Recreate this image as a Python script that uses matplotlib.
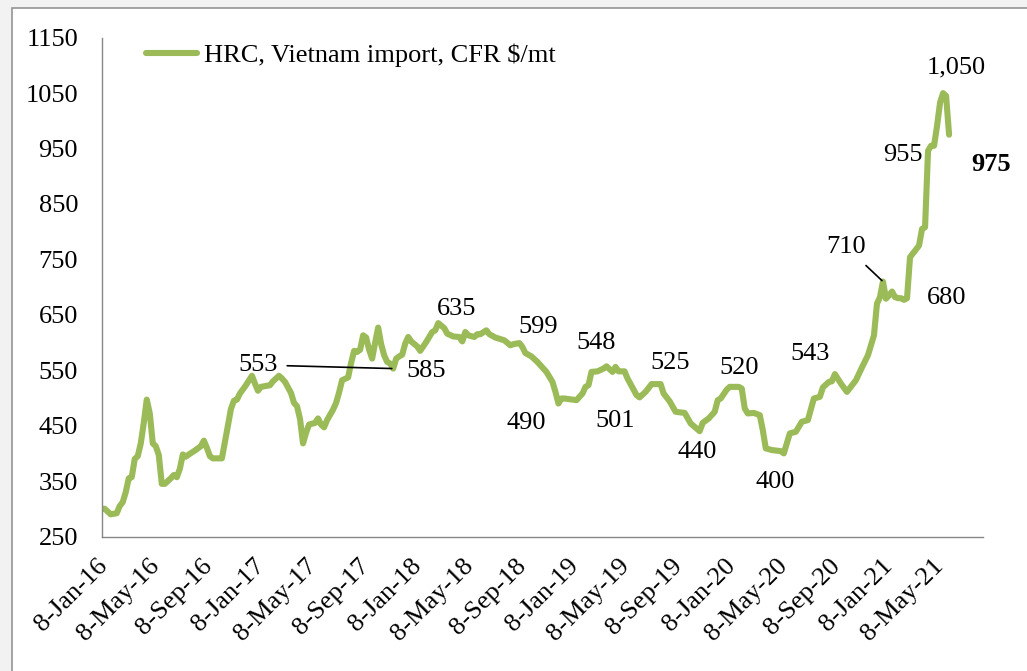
import matplotlib
matplotlib.use("Agg")
import matplotlib.pyplot as plt
from matplotlib.patches import Rectangle
from matplotlib.transforms import ScaledTranslation
import numpy as np
import pandas as pd

plt.rcParams["font.family"] = ["Liberation Serif", "DejaVu Serif"]

# Weekly assessments: week number counted from the first assessment (8-Jan-2016)
start_date = "2016-01-08"
week_no = [
    0, 1, 3, 5, 6, 7, 8, 9, 10, 11, 12, 13, 14, 15, 16, 17, 18, 19, 20, 21,
    23, 24, 25, 26, 27, 28, 29, 31, 33, 34, 35, 36, 37, 40, 41, 42, 43, 44, 45, 46,
    48, 50, 51, 52, 53, 54, 56, 57, 59, 60, 61, 62, 63, 64, 65, 66, 67, 68, 69, 71,
    72, 73, 74, 75, 77, 78, 79, 80, 82, 83, 84, 85, 86, 87, 88, 89, 90, 91, 92, 93,
    94, 95, 96, 97, 98, 99, 100, 101, 102, 103, 105, 106, 108, 110, 111, 112, 114, 115, 117, 119,
    120, 121, 122, 124, 125, 126, 128, 129, 131, 134, 136, 137, 139, 140, 141, 143, 145, 146, 148, 150,
    151, 152, 153, 154, 158, 160, 161, 162, 163, 165, 167, 168, 170, 171, 172, 174, 175, 177, 178, 179,
    181, 183, 184, 186, 187, 189, 191, 194, 196, 199, 200, 202, 204, 205, 206, 208, 209, 211, 212, 213,
    214, 215, 217, 219, 220, 221, 223, 226, 227, 229, 231, 233, 235, 237, 239, 240, 242, 243, 244, 246,
    248, 251, 253, 255, 256, 257, 258, 259, 260, 261, 262, 263, 264, 265, 266, 267, 268, 269, 270, 272,
    273, 274, 275, 276, 277, 278, 279, 280, 281, 282,
]
price = [
    300, 300, 290, 292, 305, 312, 330, 355, 357, 390, 395, 418, 455, 497, 472, 418, 413, 397, 345, 345,
    355, 361, 357, 372, 398, 394, 398, 405, 413, 423, 410, 395, 391, 391, 420, 450, 480, 495, 497, 508,
    523, 540, 526, 513, 520, 521, 523, 530, 540, 535, 529, 519, 509, 491, 485, 462, 418, 437, 452, 455,
    463, 452, 447, 460, 479, 491, 510, 532, 537, 563, 585, 583, 587, 613, 609, 587, 571, 600, 627, 597,
    577, 565, 562, 553, 571, 575, 578, 598, 610, 602, 593, 585, 601, 619, 622, 635, 626, 616, 611, 610,
    602, 619, 613, 610, 615, 615, 622, 615, 609, 604, 595, 597, 599, 592, 581, 575, 565, 559, 547, 529,
    511, 490, 499, 499, 496, 508, 520, 523, 547, 548, 553, 557, 547, 556, 548, 548, 535, 515, 505, 501,
    511, 525, 525, 525, 508, 494, 475, 473, 454, 440, 455, 463, 475, 496, 499, 515, 520, 520, 520, 517,
    481, 472, 473, 469, 442, 409, 406, 404, 400, 436, 439, 457, 460, 499, 502, 519, 529, 530, 543, 526,
    511, 532, 555, 577, 595, 613, 670, 682, 710, 679, 685, 692, 682, 680, 680, 677, 680, 754, 761, 775,
    805, 808, 946, 955, 955, 991, 1033, 1050, 1045, 975,
]

series_name = "HRC, Vietnam import, CFR $/mt"
y_ticks = list(range(250, 1151, 100))
x_tick_dates = pd.date_range("2016-01-01", "2021-05-01", freq="4MS") + pd.Timedelta(days=7)
x_end = "2021-08-22"

# Labelled points: (week number, label offset in points, bold, leader line)
labels = [
    (97, (-97.5, 2.6), False, True),
    (106, (4.2, -14.3), False, False),
    (112, (13.4, 9.9), False, False),
    (139, (13.7, 11.8), False, False),
    (152, (-23.3, -14.3), False, False),
    (165, (-1.0, 20.6), False, False),
    (179, (-17.6, -16.8), False, False),
    (184, (11.2, 15.4), False, False),
    (199, (-2.0, -14.8), False, False),
    (211, (2.7, 13.4), False, False),
    (227, (-6.2, -20.4), False, False),
    (244, (-17.8, 14.5), False, False),
    (260, (-26.4, 24.9), False, True),
    (266, (32.5, 0.4), False, False),
    (276, (-20.0, -6.6), False, False),
    (280, (9.5, 18.8), False, False),
    (282, (30.2, -21.8), True, False),
]

FS = 19
dates = pd.Timestamp(start_date) + pd.to_timedelta(np.array(week_no) * 7, unit="D")
values = np.array(price)

W, H = 1027, 671
fig = plt.figure(figsize=(W / 100, H / 100), dpi=100)
fig.patch.set_facecolor("#F2F2F2")
fig.add_artist(Rectangle((12.3 / W, -0.1), 1.2, (H - 8.3) / H + 0.1,
                         transform=fig.transFigure, facecolor="white",
                         edgecolor="#8C8C8C", linewidth=1.1, zorder=0))

ax = fig.add_axes([101.7 / W, 1 - 536.5 / H, (983 - 101.7) / W, (536.5 - 37.7) / H])
ax.set_facecolor("none")

ax.plot(dates, values, color="#9BBB59", linewidth=4.4,
        solid_joinstyle="round", solid_capstyle="round", label=series_name)

ax.set_ylim(250, 1150)
ax.set_yticks(y_ticks)
ax.set_xlim(pd.Timestamp(start_date), pd.Timestamp(x_end))
ax.set_xticks(x_tick_dates)
ax.set_xticklabels([f"{d.day}-{d.strftime('%b-%y')}" for d in x_tick_dates])

for s in ("top", "right"):
    ax.spines[s].set_visible(False)
for s in ("left", "bottom"):
    ax.spines[s].set_color("#868686")
    ax.spines[s].set_linewidth(1.0)

ax.tick_params(axis="y", length=0, pad=17, labelsize=FS)
ax.tick_params(axis="x", length=0, pad=13, labelsize=FS)
shift = ScaledTranslation(-5 / 100, 0, fig.dpi_scale_trans)
for lab in ax.get_xticklabels():
    lab.set_rotation(45)
    lab.set_ha("right")
    lab.set_va("top")
    lab.set_rotation_mode("anchor")
    lab.set_transform(lab.get_transform() + shift)

ax.legend(loc="center left", bbox_to_anchor=(0.0497, 0.9653), frameon=False,
          fontsize=FS, handlelength=1.95, handletextpad=0.25,
          borderpad=0, borderaxespad=0)

lookup = dict(zip(week_no, price))
for wk, (dx, dy), bold, leader in labels:
    v = lookup[wk]
    d = pd.Timestamp(start_date) + pd.Timedelta(days=7 * wk)
    arrow = dict(arrowstyle="-", color="black", lw=1.2, shrinkA=5, shrinkB=1) if leader else None
    ax.annotate(f"{v:,}", xy=(d, v), xytext=(dx, dy), textcoords="offset points",
                ha="center", va="center", fontsize=FS,
                fontweight="bold" if bold else "normal",
                arrowprops=arrow, annotation_clip=False)

fig.savefig("out.png", dpi=100, facecolor=fig.get_facecolor())
